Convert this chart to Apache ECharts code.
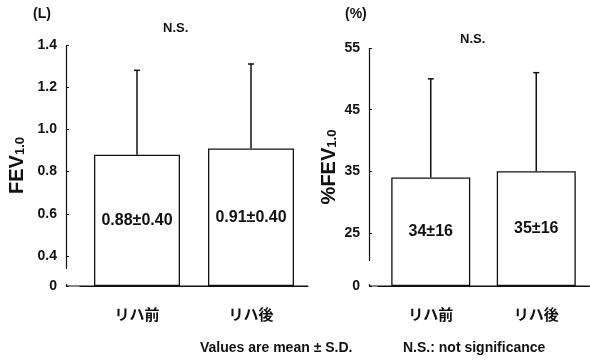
<!DOCTYPE html>
<html>
<head>
<meta charset="utf-8">
<script src="https://cdn.jsdelivr.net/npm/echarts@6/dist/echarts.min.js"></script>
<style>
  html, body { margin: 0; padding: 0; background: #fff; }
  #chart { width: 590px; height: 363px; }
</style>
</head>
<body>
<div id="chart"></div>
<script>
// data
const categories = ['リハ前', 'リハ後'];
const fevMean = [0.88, 0.91];
const fevSd = [0.40, 0.40];
const fevText = ['0.88±0.40', '0.91±0.40'];
const fevTicks = [0, 0.4, 0.6, 0.8, 1.0, 1.2, 1.4];
const pctMean = [34, 35];
const pctSd = [16, 16];
const pctText = ['34±16', '35±16'];
const pctTicks = [0, 25, 35, 45, 55];

const ink = '#111';
const latin = '"Liberation Sans", Arial, sans-serif';
const cjk = '"Noto Sans CJK JP", sans-serif';

const chart = echarts.init(document.getElementById('chart'), null, { renderer: 'canvas' });

// upward-only SD whisker with a small cap
function errorBars(means, sds, idx) {
    return {
        type: 'custom',
        xAxisIndex: idx,
        yAxisIndex: idx,
        silent: true,
        z: 1,
        data: means.map((m, i) => [i, m, m + sds[i]]),
        renderItem: (params, api) => {
            const lo = api.coord([api.value(0), api.value(1)]);
            const hi = api.coord([api.value(0), api.value(2)]);
            const st = { stroke: ink, lineWidth: 1.5 };
            return {
                type: 'group',
                children: [
                    { type: 'line', shape: { x1: lo[0], y1: lo[1], x2: hi[0], y2: hi[1] }, style: st },
                    { type: 'line', shape: { x1: hi[0] - 3, y1: hi[1], x2: hi[0] + 3, y2: hi[1] }, style: st }
                ]
            };
        }
    };
}

function yAxisFor(idx, ticks, max, brk, offset, fmt, name, nameGap) {
    return {
        type: 'value',
        gridIndex: idx,
        min: 0,
        max: max,
        offset: offset,
        breaks: [brk],
        breakArea: { show: false, expandOnClick: false },
        splitLine: { show: false },
        axisLine: { show: true, lineStyle: { color: ink, width: 1.2 } },
        axisTick: { show: true, inside: true, length: 3, customValues: ticks, lineStyle: { color: ink } },
        axisLabel: {
            customValues: ticks,
            formatter: fmt,
            color: ink,
            fontFamily: latin,
            fontWeight: 'bold',
            fontSize: 14,
            margin: 9
        },
        name: name,
        nameLocation: 'middle',
        nameRotate: 90,
        nameGap: nameGap,
        nameTextStyle: {
            color: ink,
            fontFamily: latin,
            fontWeight: 'bold',
            fontSize: 20,
            rich: {
                sub: { fontSize: 13, fontFamily: latin, fontWeight: 'bold', color: ink, verticalAlign: 'bottom' }
            }
        }
    };
}

function xAxisFor(idx) {
    return {
        type: 'category',
        gridIndex: idx,
        data: categories,
        axisLine: { show: true, onZero: false, lineStyle: { color: ink, width: 1.2 } },
        axisTick: { show: false },
        axisLabel: { color: ink, fontFamily: cjk, fontWeight: 'bold', fontSize: 15, margin: 21 }
    };
}

function bars(means, labels, idx, width) {
    return {
        type: 'bar',
        xAxisIndex: idx,
        yAxisIndex: idx,
        data: means,
        barWidth: width,
        z: 2,
        itemStyle: { color: '#fff', borderColor: ink, borderWidth: 1.3 },
        label: {
            show: true,
            position: 'inside',
            formatter: p => labels[p.dataIndex],
            color: ink,
            fontFamily: latin,
            fontWeight: 'bold',
            fontSize: 16
        }
    };
}

const textStyle = (size) => ({ fill: ink, font: 'bold ' + size + 'px ' + latin });
const baseline = { stroke: ink, lineWidth: 1.2 };

const option = {
    backgroundColor: '#fff',
    animation: false,
    grid: [
        { left: 80, right: 282, top: 45, bottom: 77, containLabel: false, outerBoundsMode: 'none' },
        { left: 378, right: 1, top: 48, bottom: 77, containLabel: false, outerBoundsMode: 'none' }
    ],
    xAxis: [xAxisFor(0), xAxisFor(1)],
    yAxis: [
        yAxisFor(0, fevTicks, 1.4, { start: 0.01, end: 0.34, gap: 0.072 }, 14,
            v => (v === 0 ? '0' : v.toFixed(1)), '{b|FEV}{sub|1.0}', 39),
        yAxisFor(1, pctTicks, 55, { start: 0.3, end: 20.6, gap: 3.9 }, 9,
            v => String(v), '{b|%FEV}{sub|1.0}', 30)
    ],
    series: [
        bars(fevMean, fevText, 0, 86),
        errorBars(fevMean, fevSd, 0),
        bars(pctMean, pctText, 1, 79),
        errorBars(pctMean, pctSd, 1)
    ],
    graphic: [
        // baselines run from the offset y axes to the grid ends
        { type: 'line', z: 0, shape: { x1: 66, y1: 286, x2: 308, y2: 286 }, style: baseline },
        { type: 'line', z: 0, shape: { x1: 369, y1: 286, x2: 590, y2: 286 }, style: baseline },
        { type: 'text', left: 33, top: 7, style: Object.assign({ text: '(L)' }, textStyle(14)) },
        { type: 'text', left: 345, top: 7, style: Object.assign({ text: '(%)' }, textStyle(14)) },
        { type: 'text', left: 163, top: 22, style: Object.assign({ text: 'N.S.' }, textStyle(13)) },
        { type: 'text', left: 460, top: 33, style: Object.assign({ text: 'N.S.' }, textStyle(13)) },
        { type: 'text', left: 200, top: 341, style: Object.assign({ text: 'Values are mean ± S.D.' }, textStyle(14)) },
        { type: 'text', left: 403, top: 341, style: Object.assign({ text: 'N.S.: not significance' }, textStyle(14)) }
    ]
};

chart.setOption(option);
</script>
</body>
</html>
